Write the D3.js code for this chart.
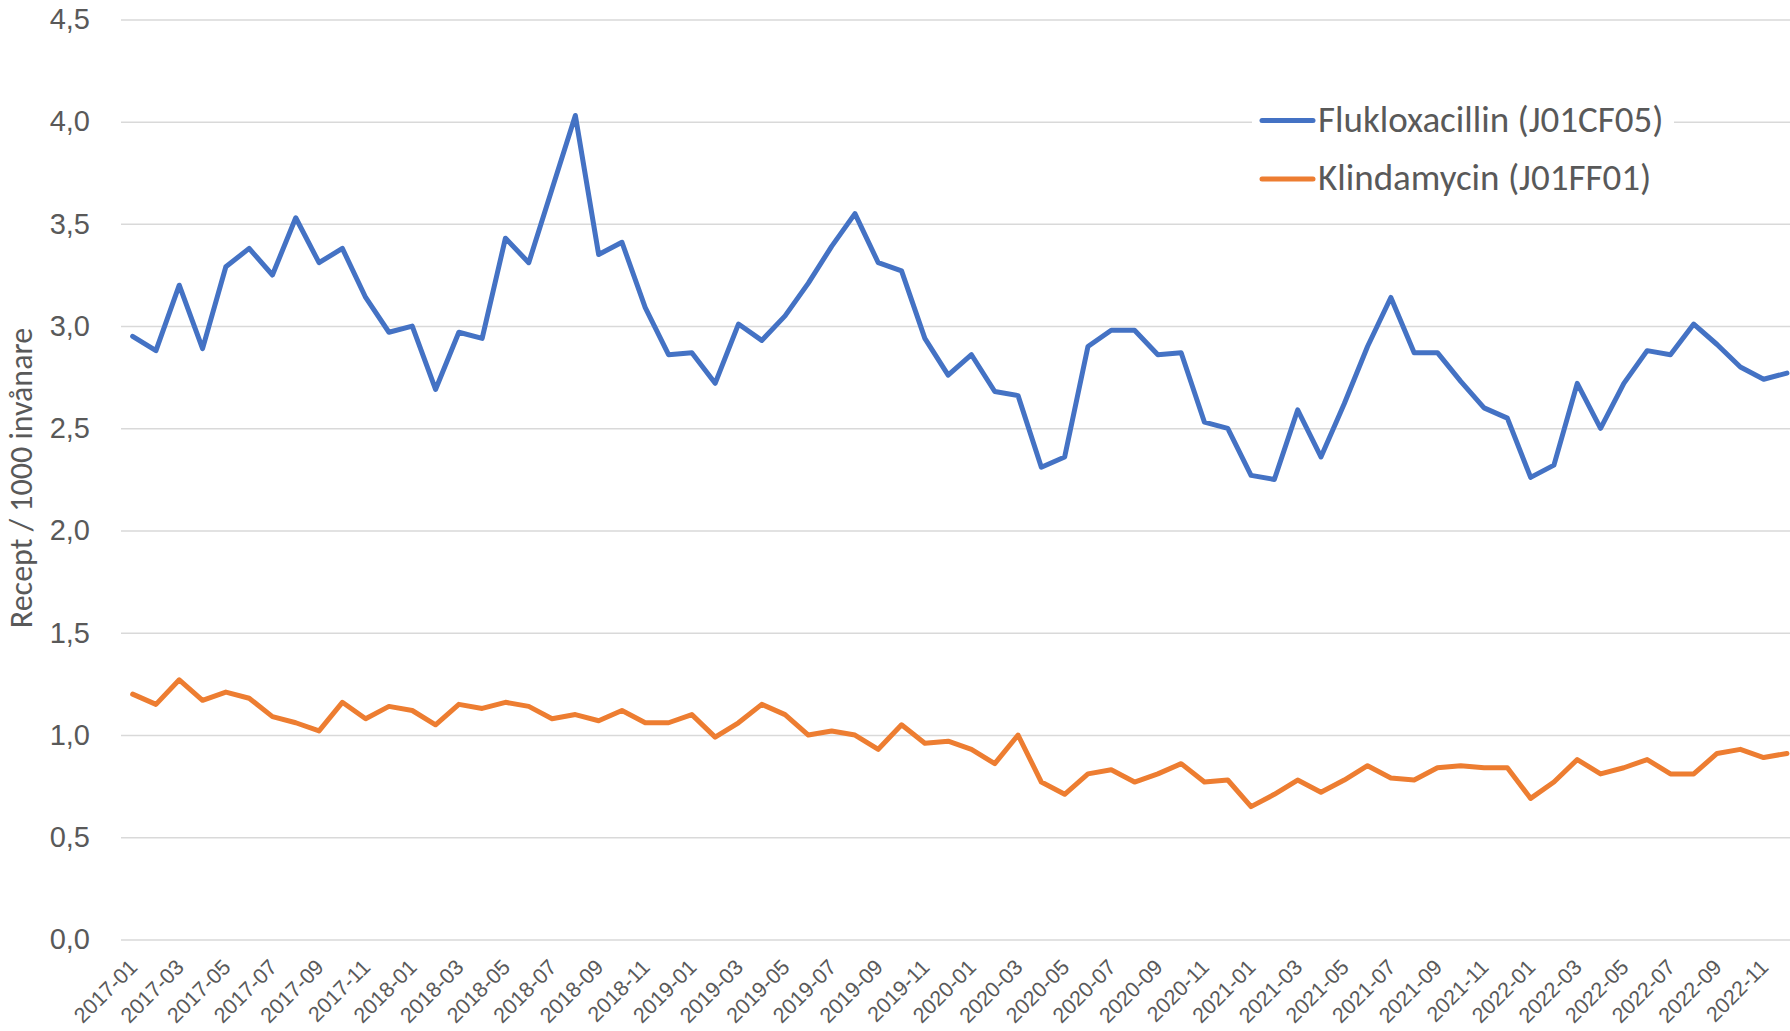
<!DOCTYPE html>
<html>
<head>
<meta charset="utf-8">
<script src="https://cdn.jsdelivr.net/npm/d3@7"></script>
<style>
  body { margin: 0; background: #fff; }
  svg { display: block; font-family: Carlito, Lato, sans-serif; }
</style>
</head>
<body>
<svg class="svg_chart" width="1790" height="1031"></svg>
<script>
// months 2017-01 .. 2022-12
var months = [
  "2017-01","2017-02","2017-03","2017-04","2017-05","2017-06","2017-07","2017-08","2017-09","2017-10","2017-11","2017-12",
  "2018-01","2018-02","2018-03","2018-04","2018-05","2018-06","2018-07","2018-08","2018-09","2018-10","2018-11","2018-12",
  "2019-01","2019-02","2019-03","2019-04","2019-05","2019-06","2019-07","2019-08","2019-09","2019-10","2019-11","2019-12",
  "2020-01","2020-02","2020-03","2020-04","2020-05","2020-06","2020-07","2020-08","2020-09","2020-10","2020-11","2020-12",
  "2021-01","2021-02","2021-03","2021-04","2021-05","2021-06","2021-07","2021-08","2021-09","2021-10","2021-11","2021-12",
  "2022-01","2022-02","2022-03","2022-04","2022-05","2022-06","2022-07","2022-08","2022-09","2022-10","2022-11","2022-12"
];

var flukloxacillin = [
  2.95, 2.88, 3.20, 2.89, 3.29, 3.38, 3.25, 3.53, 3.31, 3.38, 3.14, 2.97,
  3.00, 2.69, 2.97, 2.94, 3.43, 3.31, 3.67, 4.03, 3.35, 3.41, 3.09, 2.86,
  2.87, 2.72, 3.01, 2.93, 3.05, 3.21, 3.39, 3.55, 3.31, 3.27, 2.94, 2.76,
  2.86, 2.68, 2.66, 2.31, 2.36, 2.90, 2.98, 2.98, 2.86, 2.87, 2.53, 2.50,
  2.27, 2.25, 2.59, 2.36, 2.62, 2.90, 3.14, 2.87, 2.87, 2.73, 2.60, 2.55,
  2.26, 2.32, 2.72, 2.50, 2.72, 2.88, 2.86, 3.01, 2.91, 2.80, 2.74, 2.77
];

var klindamycin = [
  1.20, 1.15, 1.27, 1.17, 1.21, 1.18, 1.09, 1.06, 1.02, 1.16, 1.08, 1.14,
  1.12, 1.05, 1.15, 1.13, 1.16, 1.14, 1.08, 1.10, 1.07, 1.12, 1.06, 1.06,
  1.10, 0.99, 1.06, 1.15, 1.10, 1.00, 1.02, 1.00, 0.93, 1.05, 0.96, 0.97,
  0.93, 0.86, 1.00, 0.77, 0.71, 0.81, 0.83, 0.77, 0.81, 0.86, 0.77, 0.78,
  0.65, 0.71, 0.78, 0.72, 0.78, 0.85, 0.79, 0.78, 0.84, 0.85, 0.84, 0.84,
  0.69, 0.77, 0.88, 0.81, 0.84, 0.88, 0.81, 0.81, 0.91, 0.93, 0.89, 0.91
];

var yTicks = [0, 0.5, 1.0, 1.5, 2.0, 2.5, 3.0, 3.5, 4.0, 4.5];
var seriesNames = ["Flukloxacillin (J01CF05)", "Klindamycin (J01FF01)"];
var seriesColors = ["#4472C4", "#ED7D31"];

var svg = d3.select(".svg_chart"),
    margin = {top: 19.4, left: 121, bottom: 91.5},
    plotRight = 121 + 72 * 23.3,   // plot runs a bit past the image edge
    plotBottom = 1031 - margin.bottom;

var x = d3.scaleBand().domain(months).range([margin.left, plotRight]);
var y = d3.scaleLinear().domain([0, 4.5]).range([plotBottom, margin.top]);
var fmt = function(v) { return d3.format(".1f")(v).replace(".", ","); };

// gridlines + y labels
var yAxis = d3.axisLeft(y)
    .tickValues(yTicks)
    .tickSize(-(plotRight - margin.left))
    .tickPadding(31)
    .tickFormat(fmt);

svg.append("g")
    .attr("class", "y axis")
    .attr("transform", "translate(" + margin.left + ",0)")
    .call(yAxis)
    .call(function(g) {
      g.select(".domain").remove();
      g.selectAll("line").attr("stroke", "#D9D9D9").attr("stroke-width", 1.5);
      g.selectAll("text").attr("fill", "#595959").style("font-size", "29px");
    });

// x labels, every second month, rotated
var xAxis = d3.axisBottom(x)
    .tickValues(months.filter(function(d, i) { return i % 2 == 0; }))
    .tickSize(0);

svg.append("g")
    .attr("class", "x axis")
    .attr("transform", "translate(0," + plotBottom + ")")
    .call(xAxis)
    .call(function(g) {
      g.select(".domain").remove();
      g.selectAll("text")
        .attr("fill", "#595959")
        .style("font-size", "21.5px")
        .style("text-anchor", "end")
        .attr("y", 0)
        .attr("dy", 0)
        .attr("transform", "translate(6,29) rotate(-45)");
    });

// y title
svg.append("text")
    .attr("transform", "translate(32,478) rotate(-90)")
    .attr("text-anchor", "middle")
    .attr("fill", "#595959")
    .style("font-size", "32px")
    .text("Recept / 1000 invånare");

var line = d3.line()
    .x(function(d, i) { return x(months[i]) + x.bandwidth() / 2; })
    .y(function(d) { return y(d); })
    .curve(d3.curveLinear);

[flukloxacillin, klindamycin].forEach(function(s, k) {
  svg.append("path")
      .datum(s)
      .attr("fill", "none")
      .attr("stroke", seriesColors[k])
      .attr("stroke-width", 5)
      .attr("stroke-linejoin", "round")
      .attr("stroke-linecap", "round")
      .attr("d", line);
});

// legend
var legend = svg.append("g").attr("class", "legend");
legend.append("rect")
    .attr("x", 1252).attr("y", 90)
    .attr("width", 422).attr("height", 115)
    .attr("fill", "#fff");

seriesNames.forEach(function(name, k) {
  var ly = 120.5 + k * 58.5;
  legend.append("line")
      .attr("x1", 1262).attr("x2", 1313)
      .attr("y1", ly).attr("y2", ly)
      .attr("stroke", seriesColors[k])
      .attr("stroke-width", 5)
      .attr("stroke-linecap", "round");
  legend.append("text")
      .attr("x", 1318).attr("y", ly)
      .attr("dy", "0.31em")
      .attr("fill", "#595959")
      .style("font-size", "37px")
      .text(name);
});
</script>
</body>
</html>
